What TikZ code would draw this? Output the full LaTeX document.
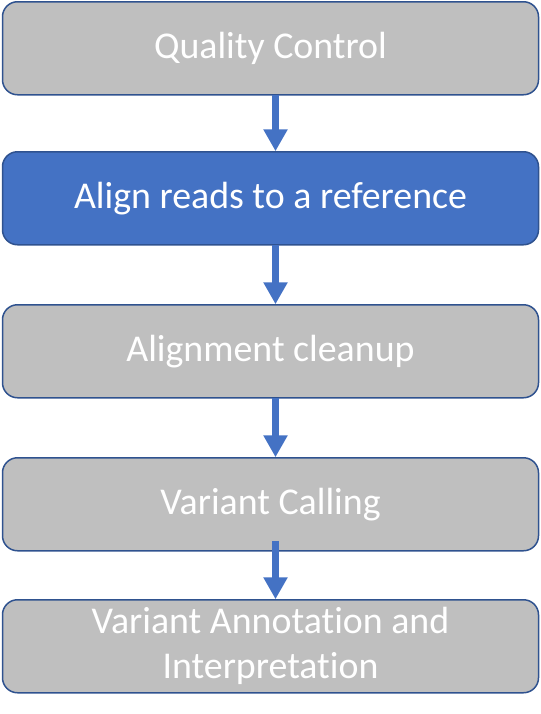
\documentclass[tikz,border=0pt]{standalone}
\usepackage{fontspec}
\setmainfont{Carlito}[Ligatures=NoCommon]
\usepackage{tikz}
\usetikzlibrary{positioning,arrows.meta}
\definecolor{boxgray}{HTML}{BFBFBF}
\definecolor{boxblue}{HTML}{4472C4}
\definecolor{boxline}{HTML}{2F528F}
\tikzset{step style/.style={
		draw=boxline,
		line width=1.5bp,
		fill=boxgray,
		text=white,
		rectangle,
		rounded corners=15bp,
		minimum width=536bp,
		minimum height=93bp,
		outer sep=0pt,
		align=center,
		font=\fontsize{38}{45}\selectfont,
	},
	active style/.style={
		step style,
		fill=boxblue,
	},
	arrow style/.style={
		draw=boxblue,
		line width=7bp,
		-{Triangle[width=23bp,length=22bp]},
		shorten >=0.5bp
	}
}

\begin{document}
\begin{tikzpicture}[node distance=60bp]
	\useasboundingbox (0bp,0bp) rectangle (541bp,-714bp);
	\node[step style] (QC) at (270.5bp,-48.25bp) {Quality Control};
	
	\node[active style, below=57bp of QC] (Align) {Align reads to a reference};
	
	\node[step style, below=of Align] (Cleanup) {Alignment cleanup};
	
	\node[step style, below=of Cleanup] (Calling) {Variant Calling};
	
	\node[step style, below=49bp of Calling] (Annot) {Variant Annotation and\\Interpretation};
	
	\draw[arrow style] ([xshift=5bp]QC.south) -- ([xshift=5bp]Align.north);
	\draw[arrow style] ([xshift=5bp]Align.south) -- ([xshift=5bp]Cleanup.north);
	\draw[arrow style] ([xshift=5bp]Cleanup.south) -- ([xshift=5bp]Calling.north);
	\draw[arrow style] ([xshift=5bp,yshift=10bp]Calling.south) -- ([xshift=5bp]Annot.north);
\end{tikzpicture}
\end{document}
